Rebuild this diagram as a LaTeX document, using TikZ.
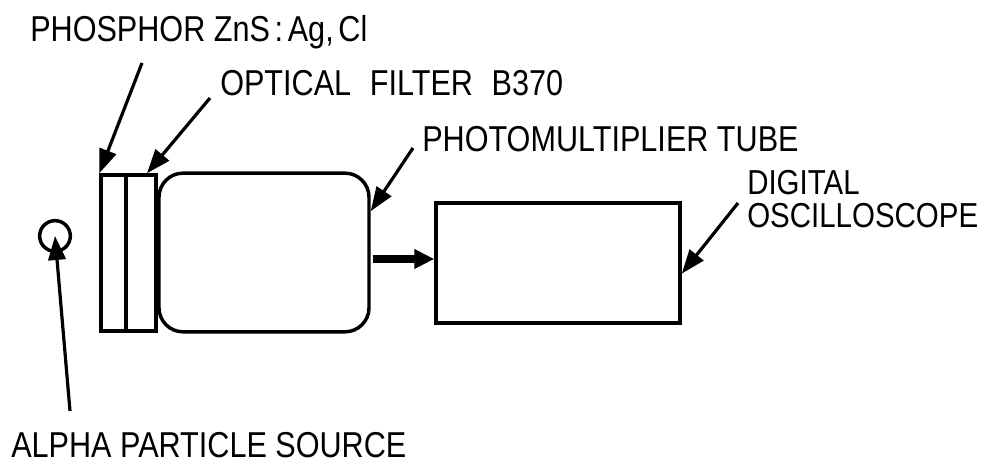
\documentclass[tikz,border=0pt]{standalone}
\usepackage{fontspec}
\setmainfont{Liberation Sans}[FakeStretch=0.85]
\usetikzlibrary{arrows.meta}

\begin{document}
\begin{tikzpicture}
  [x=0.75pt,y=-0.75pt,font=\fontsize{27}{24}\selectfont]
      \tikzstyle{box_style} = [draw=black, line width=2.6pt, inner sep=0pt]
      \tikzstyle{label_arrow} = [draw=black, line width=2.4pt, -{Triangle[length=18pt,width=13pt]}]
      \tikzstyle{signal_arrow} = [draw=black, line width=5.5pt, shorten <=2pt, -{Triangle[length=15pt,width=14pt]}]
      \tikzstyle{caption} = [inner sep=0pt, anchor=base west]
  \useasboundingbox (0,0) rectangle (986,466);
  % parts of the set-up
  \node[box_style, circle, minimum size=23pt] (src) at (55,236) {};
  \node[box_style, minimum width=18.75pt, minimum height=117pt] (phos) at (113.5,253) {};
  \node[box_style, minimum width=22.5pt, minimum height=117pt] (filt) at (141,253) {};
  \node[box_style, rounded corners=18pt, minimum width=157.5pt, minimum height=119pt] (pmt) at (264,252.5) {};
  \node[box_style, minimum width=183pt, minimum height=90pt] (osc) at (558,263) {};
  % labels
  \node[caption] (phos_txt) at (30,42) {PHOSPHOR ZnS{\kern3.5pt}:{\kern3.5pt}Ag,{\kern3.5pt}Cl};
  \node[caption] (filt_txt) at (220,96) {OPTICAL\hspace{14pt}FILTER\hspace{14pt}B370};
  \node[caption] (pmt_txt) at (422,152) {PHOTOMULTIPLIER TUBE};
  \node[inner sep=0pt, anchor=north west, align=left, font=\fontsize{26}{25}\selectfont] (osc_txt) at (747,170) {DIGITAL\\OSCILLOSCOPE};
  \node[caption] (src_txt) at (11,458) {ALPHA PARTICLE SOURCE};
  % arrow tails
  \coordinate (phos_tail) at (142,63);
  \coordinate (filt_tail) at (210,98);
  \coordinate (pmt_tail) at (413,148);
  \coordinate (osc_tail) at (738,203);
  \coordinate (src_tail) at (70,411);
  \draw[label_arrow] (phos_tail) -- (phos.north west);
  \draw[label_arrow] (filt_tail) -- ([xshift=4.5pt]filt.north);
  \draw[label_arrow] (pmt_tail) -- ([yshift=31pt]pmt.east);
  \draw[label_arrow] (osc_tail) -- ([yshift=-8pt]osc.east);
  \draw[label_arrow] (src_tail) -- (src.center);
  \draw[signal_arrow] ([yshift=3pt]osc.west -| pmt.east) -- ([yshift=3pt]osc.west);
\end{tikzpicture}
\end{document}
